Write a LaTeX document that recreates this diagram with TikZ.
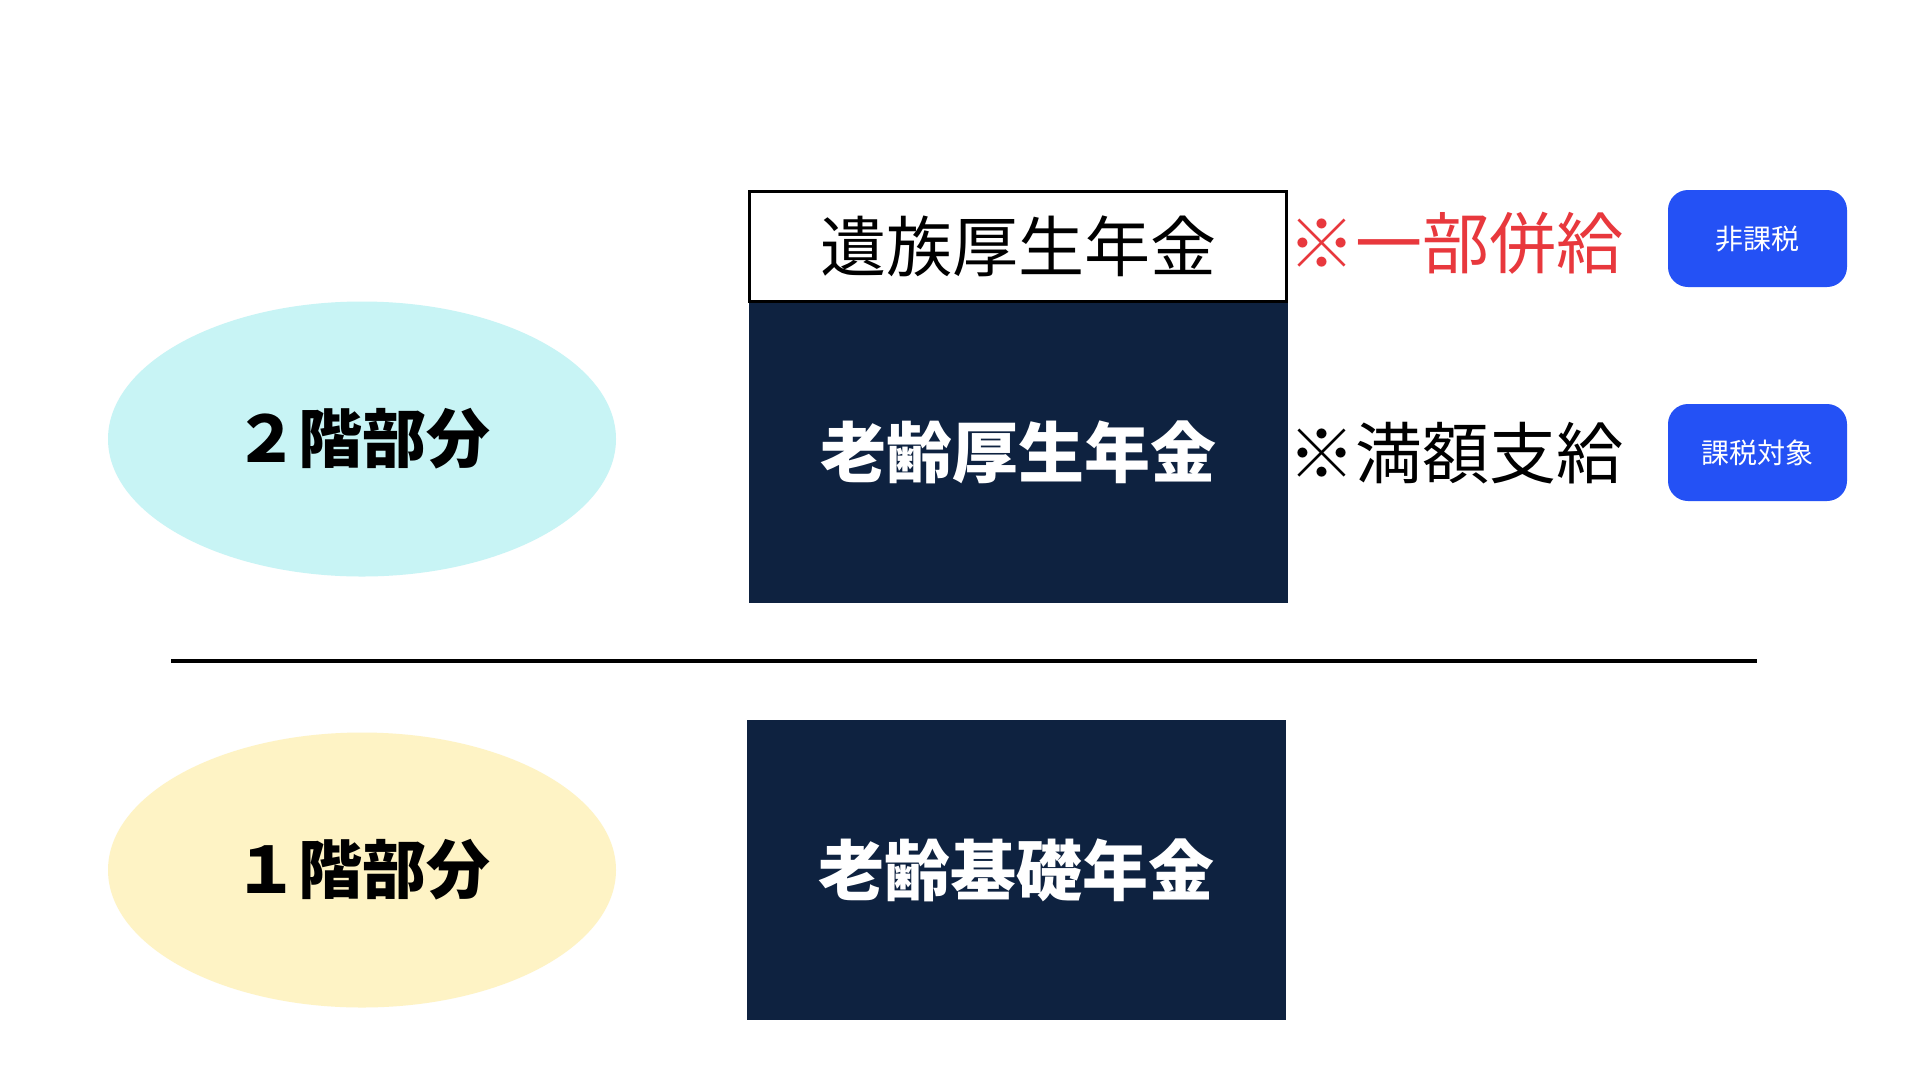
\documentclass[tikz,border=0pt]{standalone}
\usepackage{fontspec}
\setmainfont{Noto Sans CJK JP}
\usetikzlibrary{shapes.geometric}
\definecolor{navy}{HTML}{0E2240}
\definecolor{cyanfill}{HTML}{C8F4F5}
\definecolor{yellowfill}{HTML}{FEF3C5}
\definecolor{btnblue}{HTML}{2451F5}
\definecolor{noteRed}{HTML}{E8383D}
\tikzset{
  darkbox/.style={rectangle, fill=navy, draw=none, inner sep=0pt, minimum width=539pt, text=white, font=\fontsize{66}{70}\selectfont\bfseries},
  whitebox/.style={rectangle, fill=white, draw=black, line width=3pt, inner sep=0pt, minimum width=537pt, minimum height=110pt, font=\fontsize{66}{70}\selectfont},
  floor/.style={ellipse, draw=none, inner sep=0pt, minimum width=508pt, minimum height=275pt, font=\fontsize{64}{68}\selectfont\bfseries},
  btn/.style={rectangle, rounded corners=20pt, fill=btnblue, draw=none, text=white, inner sep=0pt, minimum width=179pt, minimum height=97pt, font=\fontsize{28}{32}\selectfont},
  note/.style={anchor=west, inner sep=0pt, font=\fontsize{67}{72}\selectfont},
}
\begin{document}
\begin{tikzpicture}[x=1pt,y=-1pt]
\useasboundingbox[fill=white] (0,0) rectangle (1920,1080);
% top pension boxes
\node[darkbox, minimum height=302pt] (rokureikosei) at (1018.5,452) {老齢厚生年金};
\node[whitebox] (izoku) at (1018,246) {遺族厚生年金};
\node[darkbox, minimum height=300pt] (kiso) at (1016.5,870) {老齢基礎年金};
% floors
\node[floor, fill=cyanfill] (floor2) at (362,439) {２階部分};
\node[floor, fill=yellowfill] (floor1) at (362,870) {１階部分};
% notes
\node[note, text=noteRed] (heikyu) at (1288,243) {※一部併給};
\node[note, text=black] (mangaku) at (1288,453) {※満額支給};
% buttons
\node[btn] (hikazei) at (1757.5,238.5) {非課税};
\node[btn] (kazei) at (1757.5,452.5) {課税対象};
% divider
\coordinate (divL) at (171,661);
\coordinate (divR) at (1757,661);
\draw[line width=4pt, black] (divL) -- (divR);
\end{tikzpicture}
\end{document}
